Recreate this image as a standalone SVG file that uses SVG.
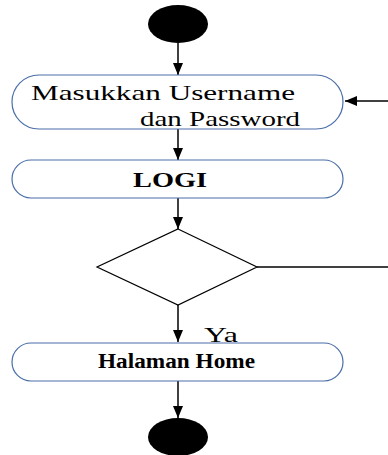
<svg xmlns="http://www.w3.org/2000/svg" width="388" height="455" viewBox="0 0 388 455">
<style>
.act{fill:#fff;stroke:#4a6ea8;stroke-width:1.2}
.ln{stroke:#000;stroke-width:1.5;fill:none}
text{font-family:'Liberation Serif','DejaVu Serif',serif;font-size:21px;fill:#000}
.b{font-weight:bold;font-size:20px}
</style>
<defs>
<marker id="ah" viewBox="0 0 12 10" refX="12" refY="5" markerWidth="12" markerHeight="10" markerUnits="userSpaceOnUse" orient="auto">
<path d="M0,0 L12,5 L0,10 z" fill="#000"/>
</marker>
</defs>
<rect width="388" height="455" fill="#fff"/>
<g id="connectors">
<line class="ln" x1="178" y1="43" x2="178" y2="75" marker-end="url(#ah)"/>
<line class="ln" x1="178" y1="129" x2="178" y2="160" marker-end="url(#ah)"/>
<line class="ln" x1="178" y1="198" x2="178" y2="229" marker-end="url(#ah)"/>
<line class="ln" x1="178" y1="305" x2="178" y2="342" marker-end="url(#ah)"/>
<line class="ln" x1="178" y1="381" x2="178" y2="418" marker-end="url(#ah)"/>
<line class="ln" x1="257" y1="267" x2="388" y2="267"/>
<line class="ln" x1="388" y1="101" x2="345" y2="101" marker-end="url(#ah)"/>
<text x="204" y="342" textLength="34" lengthAdjust="spacingAndGlyphs">Ya</text>
</g>
<g id="start"><ellipse cx="178" cy="24" rx="30" ry="19" fill="#000"/></g>
<g id="input">
<rect class="act" x="12" y="75" width="331" height="54" rx="27"/>
<text x="31" y="100" textLength="264" lengthAdjust="spacingAndGlyphs">Masukkan  Username</text>
<text x="140" y="126" textLength="160" lengthAdjust="spacingAndGlyphs">dan Password</text>
</g>
<g id="login">
<rect class="act" x="12" y="160" width="331" height="38" rx="19"/>
<text class="b" x="133" y="187" textLength="74" lengthAdjust="spacingAndGlyphs">LOGI</text>
</g>
<g id="decision"><polygon points="178,229 257,267 178,305 97,267" fill="#fff" stroke="#000" stroke-width="1.2"/></g>
<g id="home">
<rect class="act" x="12" y="343" width="331" height="38" rx="19"/>
<text class="b" x="98" y="368" textLength="157" lengthAdjust="spacingAndGlyphs">Halaman Home</text>
</g>
<g id="end"><ellipse cx="178" cy="437" rx="30" ry="19" fill="#000"/></g>
</svg>
